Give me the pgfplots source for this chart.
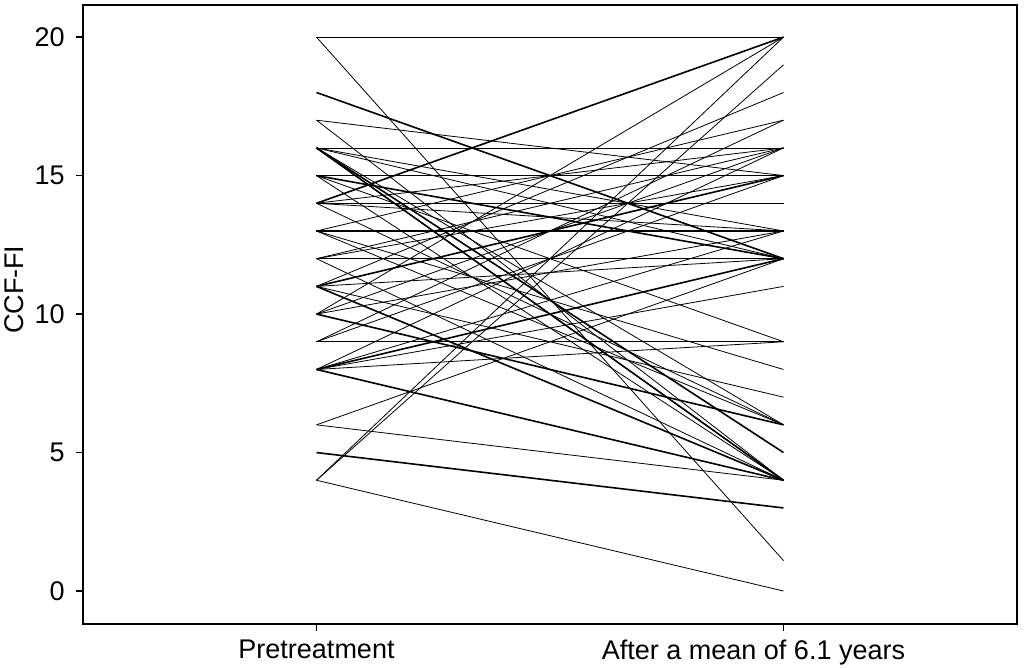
\documentclass[border=0pt]{standalone}
\usepackage{pgfplots}
\pgfplotsset{compat=1.18}
\usepackage{fontspec}
\setmainfont{Liberation Sans}
\begin{document}
\fontsize{13.5}{16}\selectfont
\begin{tikzpicture}
\begin{axis}[
  name=a,
  scale only axis,
  width=467pt, height=309.5pt,
  xmin=-0.5, xmax=1.5, ymin=-1.19, ymax=21.16,
  xtick={0,1}, xticklabels={Pretreatment, {\kern-30pt After a mean of 6.1 years}},
  ytick={0,5,10,15,20},
  tick pos=left,
  tick align=outside,
  major tick length=3.5pt,
  axis line style={line width=0.9pt},
  tick style={line width=0.8pt, black},
  /pgf/number format/assume math mode=true,
  ticklabel style={font=\fontsize{13.5}{16}\selectfont},
  yticklabel style={xshift=-1pt},
  ylabel={CCF-FI},
  every axis y label/.style={at={(axis description cs:0,0.54)}, xshift=-34.5pt, rotate=90, anchor=center, font=\fontsize{13.5}{16}\selectfont},
  cycle list={{black, solid, line width=0.8pt, mark=none}},
  clip=false,
]
\addplot coordinates {(0,20) (1,20)};
\addplot coordinates {(0,20) (1,1.1)};
\addplot coordinates {(0,18) (1,12)};
\addplot coordinates {(0,17) (1,15)};
\addplot coordinates {(0,17) (1,4)};
\addplot coordinates {(0,16) (1,16)};
\addplot coordinates {(0,16) (1,4)};
\addplot coordinates {(0,16) (1,4)};
\addplot coordinates {(0,16) (1,6)};
\addplot coordinates {(0,16) (1,13)};
\addplot coordinates {(0,16) (1,5)};
\addplot coordinates {(0,16) (1,12)};
\addplot coordinates {(0,15) (1,15)};
\addplot coordinates {(0,15) (1,4)};
\addplot coordinates {(0,15) (1,12)};
\addplot coordinates {(0,15) (1,9)};
\addplot coordinates {(0,14) (1,14)};
\addplot coordinates {(0,14) (1,6)};
\addplot coordinates {(0,14) (1,20)};
\addplot coordinates {(0,14) (1,13)};
\addplot coordinates {(0,14) (1,16)};
\addplot coordinates {(0,13) (1,13)};
\addplot coordinates {(0,13) (1,13)};
\addplot coordinates {(0,13) (1,17)};
\addplot coordinates {(0,13) (1,6)};
\addplot coordinates {(0,13) (1,8)};
\addplot coordinates {(0,12) (1,12)};
\addplot coordinates {(0,12) (1,16)};
\addplot coordinates {(0,12) (1,4)};
\addplot coordinates {(0,12) (1,15)};
\addplot coordinates {(0,11) (1,15)};
\addplot coordinates {(0,11) (1,18)};
\addplot coordinates {(0,11) (1,12)};
\addplot coordinates {(0,11) (1,7)};
\addplot coordinates {(0,11) (1,4)};
\addplot coordinates {(0,10) (1,16)};
\addplot coordinates {(0,10) (1,13)};
\addplot coordinates {(0,10) (1,20)};
\addplot coordinates {(0,10) (1,6)};
\addplot coordinates {(0,9) (1,9)};
\addplot coordinates {(0,9) (1,15)};
\addplot coordinates {(0,9) (1,17)};
\addplot coordinates {(0,8) (1,4)};
\addplot coordinates {(0,8) (1,13)};
\addplot coordinates {(0,8) (1,16)};
\addplot coordinates {(0,8) (1,11)};
\addplot coordinates {(0,8) (1,12)};
\addplot coordinates {(0,8) (1,9)};
\addplot coordinates {(0,6) (1,4)};
\addplot coordinates {(0,6) (1,12)};
\addplot coordinates {(0,5) (1,3)};
\addplot coordinates {(0,4) (1,0)};
\addplot coordinates {(0,4) (1,20)};
\addplot coordinates {(0,4) (1,19)};
\end{axis}
\pgfresetboundingbox
\path ([shift={(-41.5pt,-22pt)}]a.south west) rectangle ([shift={(3.5pt,2.5pt)}]a.north east);
\end{tikzpicture}
\end{document}
